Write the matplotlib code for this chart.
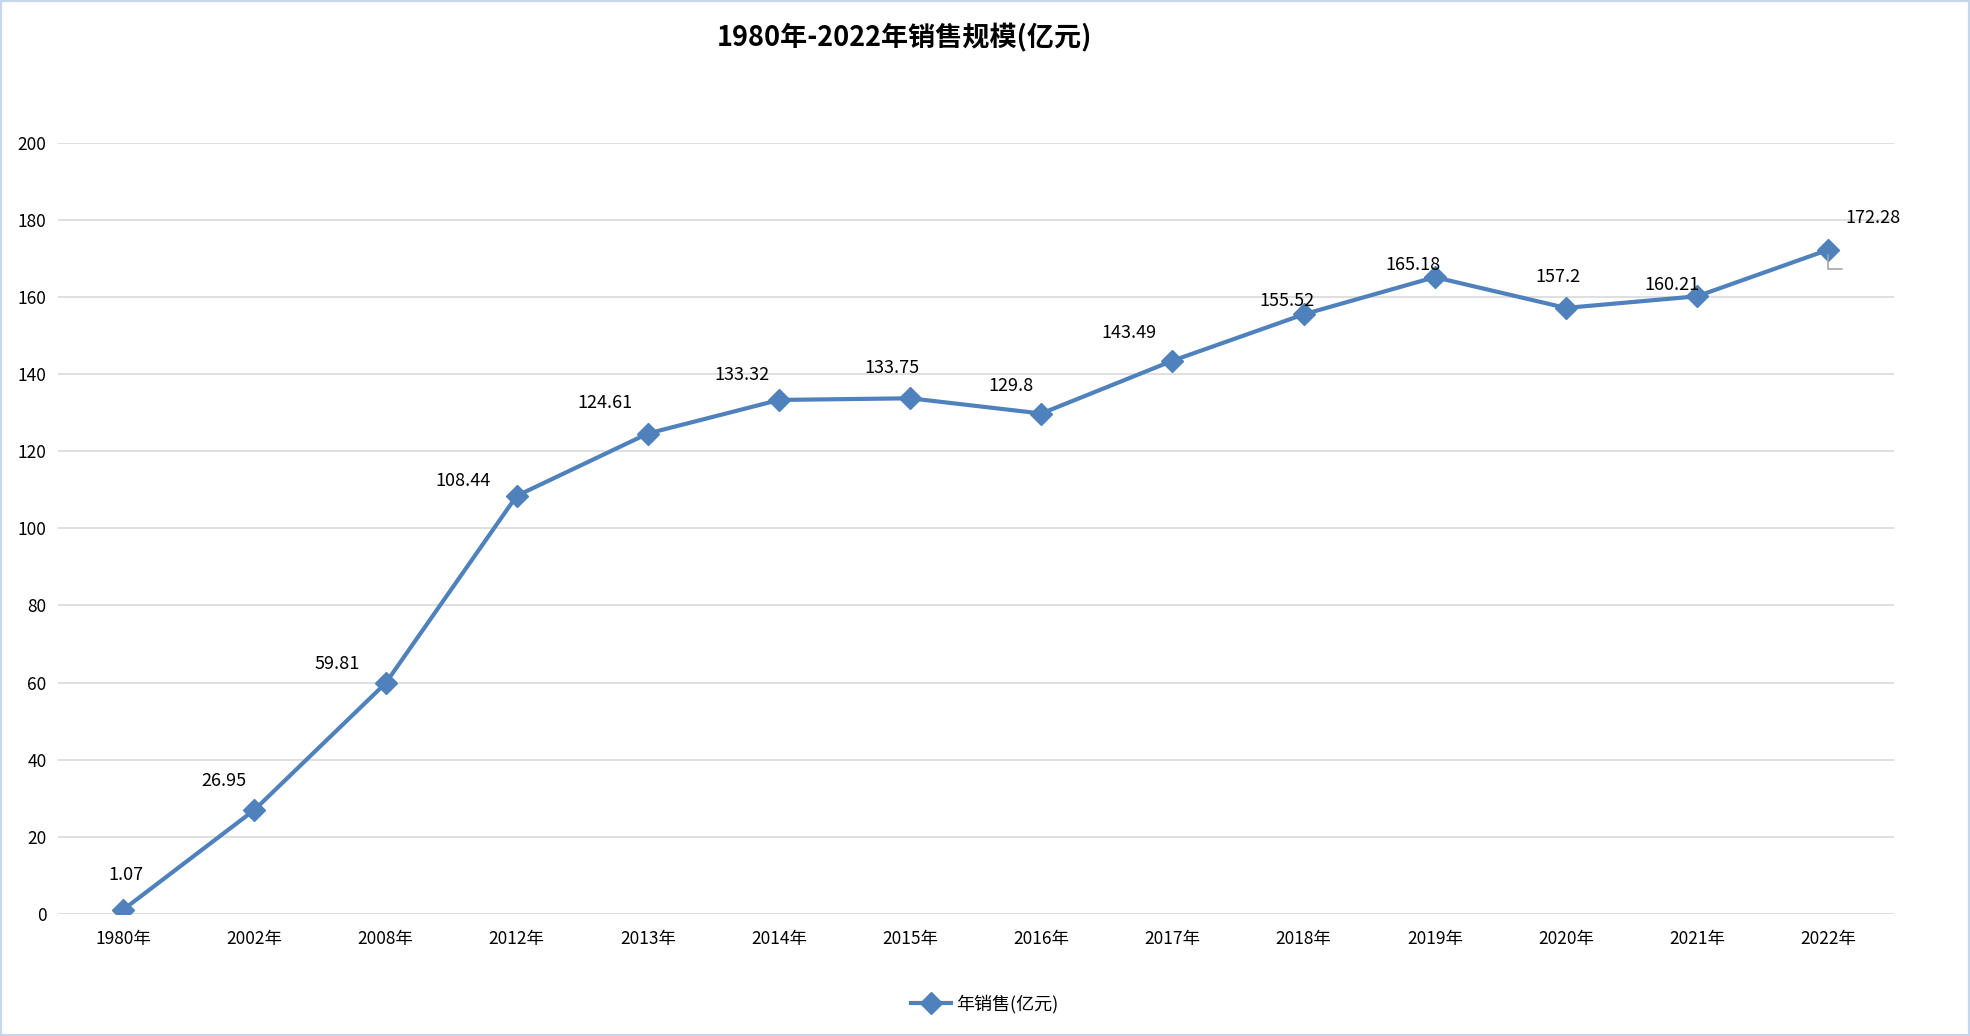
import matplotlib.pyplot as plt
from matplotlib.patches import Rectangle

plt.rcParams['font.family'] = ['Noto Sans CJK SC', 'DejaVu Sans']

# data
years = ['1980年', '2002年', '2008年', '2012年', '2013年', '2014年', '2015年',
         '2016年', '2017年', '2018年', '2019年', '2020年', '2021年', '2022年']
sales = [1.07, 26.95, 59.81, 108.44, 124.61, 133.32, 133.75,
         129.8, 143.49, 155.52, 165.18, 157.2, 160.21, 172.28]
yticks = [0, 20, 40, 60, 80, 100, 120, 140, 160, 180, 200]

# label offsets (points) from each marker
label_dx = [2, -22, -35, -39, -31, -27, -13, -22, -31, -12, -16, -6, -18, 32]
label_dy = [25, 21, 14, 11, 22, 18, 22, 20, 20, 10, 9, 22, 8, 23]

blue = '#4f81bd'

fig = plt.figure(figsize=(19.7, 10.36), dpi=100)
fig.patches.append(Rectangle((0, 0), 1, 1, transform=fig.transFigure,
                             fill=False, edgecolor='#c6d6ec', linewidth=3))
ax = fig.add_axes([0.0293, 0.118, 0.932, 0.744])

x = list(range(len(years)))
ax.plot(x, sales, color=blue, linewidth=3, marker='D', markersize=11,
        markerfacecolor=blue, markeredgecolor=blue, label='年销售(亿元)',
        zorder=3)

for i, v in enumerate(sales):
    ax.annotate(f'{v:g}', (i, v), xytext=(label_dx[i], label_dy[i]),
                textcoords='offset points', ha='center', va='center',
                fontsize=13, color='black')

# leader line for the last label
ax.annotate('', xy=(13, sales[-1]), xytext=(10, -14), textcoords='offset points',
            arrowprops=dict(arrowstyle='-', color='#a6a6a6', linewidth=1.2,
                            connectionstyle='angle,angleA=0,angleB=90,rad=0',
                            shrinkA=0, shrinkB=4))

ax.set_xlim(-0.5, len(years) - 0.5)
ax.set_ylim(0, 200)
ax.set_xticks(x)
ax.set_xticklabels(years, fontsize=12.5)
ax.set_yticks(yticks)
ax.set_yticklabels([str(t) for t in yticks], fontsize=12.5)
ax.tick_params(axis='x', length=0, pad=12)
ax.tick_params(axis='y', length=0, pad=8)
ax.grid(axis='y', color='#d9d9d9', linewidth=1.2)
ax.set_axisbelow(True)
for s in ax.spines.values():
    s.set_visible(False)

fig.text(0.459, 0.963, '1980年-2022年销售规模(亿元)', ha='center', va='center',
         fontsize=19.5, fontweight='bold')

fig.legend(loc='center', bbox_to_anchor=(0.5, 0.031), frameon=False,
           fontsize=13, handlelength=2.2, handletextpad=0.3)

fig.savefig('out.png', dpi=100)
